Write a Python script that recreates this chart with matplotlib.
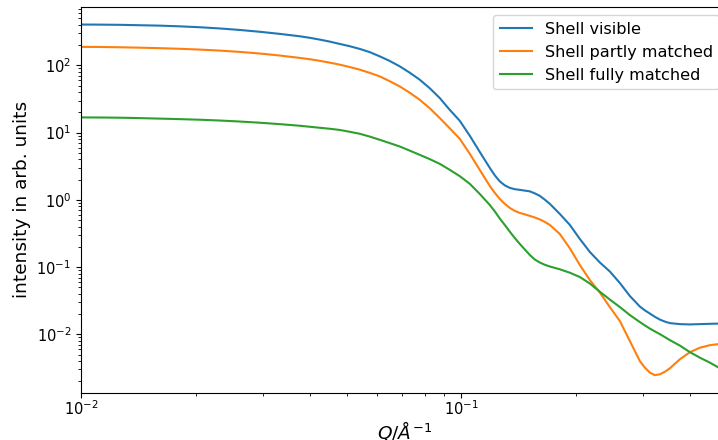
import matplotlib
matplotlib.use("Agg")
import matplotlib.pyplot as plt

# scattering vector Q in 1/Angstrom
q = [0.01000, 0.01117, 0.01261, 0.01424, 0.01607, 0.01814, 0.02048, 0.02312,
     0.02610, 0.02946, 0.03325, 0.03754, 0.03988, 0.04237, 0.04502, 0.04783,
     0.05082, 0.05400, 0.05737, 0.06095, 0.06476, 0.06880, 0.07310, 0.07767,
     0.08252, 0.08768, 0.09316, 0.09898, 0.1052, 0.1117, 0.1187, 0.1224,
     0.1261, 0.1300, 0.1340, 0.1381, 0.1424, 0.1513, 0.1559, 0.1607,
     0.1657, 0.1708, 0.1814, 0.1928, 0.2048, 0.2176, 0.2312, 0.2456,
     0.2610, 0.2773, 0.2946, 0.3037, 0.3130, 0.3226, 0.3325, 0.3428,
     0.3533, 0.3754, 0.3988, 0.4237, 0.4502, 0.4726]

# intensities, arbitrary units
shell_visible = [405.5, 404.2, 401.5, 396, 390.6, 381.3, 369.7, 354.8,
                 337.0, 316.7, 294.7, 271.5, 257.8, 242.4, 226.3, 209,
                 193.2, 176.2, 157.9, 136.6, 116.7, 97.0, 78.1, 61.4,
                 45.9, 32.8, 21.9, 15.04, 8.99, 5.19, 3.00, 2.318,
                 1.887, 1.645, 1.510, 1.443, 1.409, 1.339, 1.250, 1.147,
                 1.007, 0.872, 0.618, 0.424, 0.2623, 0.1679, 0.1171, 0.0860,
                 0.0579, 0.0371, 0.02587, 0.0227, 0.02035, 0.01823, 0.01656, 0.01546,
                 0.01468, 0.01419, 0.01404, 0.01419, 0.01434, 0.01444]

shell_partly = [188.7, 188.1, 186.1, 183.6, 180.5, 176.8, 172.0, 166.2,
                158.9, 150.4, 140.4, 129.4, 123.7, 117.1, 110.1, 102.8,
                94.7, 86.6, 77.6, 68.8, 58.3, 48.8, 39.3, 30.9,
                23.1, 16.5, 11.63, 8.11, 4.85, 2.80, 1.617, 1.271,
                1.035, 0.872, 0.760, 0.686, 0.640, 0.578, 0.547, 0.512,
                0.470, 0.424, 0.311, 0.1906, 0.1075, 0.0642, 0.0418, 0.02543,
                0.01573, 0.00792, 0.00399, 0.00319, 0.00269, 0.00247, 0.00255, 0.00278,
                0.00313, 0.00427, 0.00543, 0.00633, 0.00690, 0.00714]

shell_fully = [16.85, 16.79, 16.68, 16.45, 16.17, 15.89, 15.57, 15.15,
               14.64, 14.05, 13.39, 12.67, 12.24, 11.83, 11.43, 10.97,
               10.31, 9.63, 8.75, 7.84, 7.00, 6.23, 5.41, 4.68,
               4.04, 3.44, 2.80, 2.256, 1.732, 1.228, 0.842, 0.674,
               0.530, 0.424, 0.337, 0.2715, 0.2210, 0.1515, 0.1298, 0.1171,
               0.1082, 0.1021, 0.0928, 0.0825, 0.0712, 0.0570, 0.0430, 0.0329,
               0.02543, 0.01932, 0.01520, 0.01357, 0.01216, 0.01105, 0.01007, 0.00908,
               0.00820, 0.00679, 0.00543, 0.00449, 0.00379, 0.00324]

fig = plt.figure(figsize=(7.18, 4.40), dpi=100)
ax = fig.add_axes([81 / 718, 47.3 / 440, 646.3 / 718, 385.7 / 440])

ax.loglog(q, shell_visible, label="Shell visible")
ax.loglog(q, shell_partly, label="Shell partly matched")
ax.loglog(q, shell_fully, label="Shell fully matched")

ax.set_xlim(0.01, 0.5)
ax.set_xlabel(r"$Q/\AA^{-1}$", fontsize=13.3, labelpad=0.5)
ax.set_ylabel("intensity in arb. units", fontsize=13.3)
ax.tick_params(labelsize=10.5)
ax.tick_params(axis="x", which="major", pad=1.2)
ax.legend(fontsize=11.6, loc="upper right")

fig.savefig("out.png", dpi=100)
